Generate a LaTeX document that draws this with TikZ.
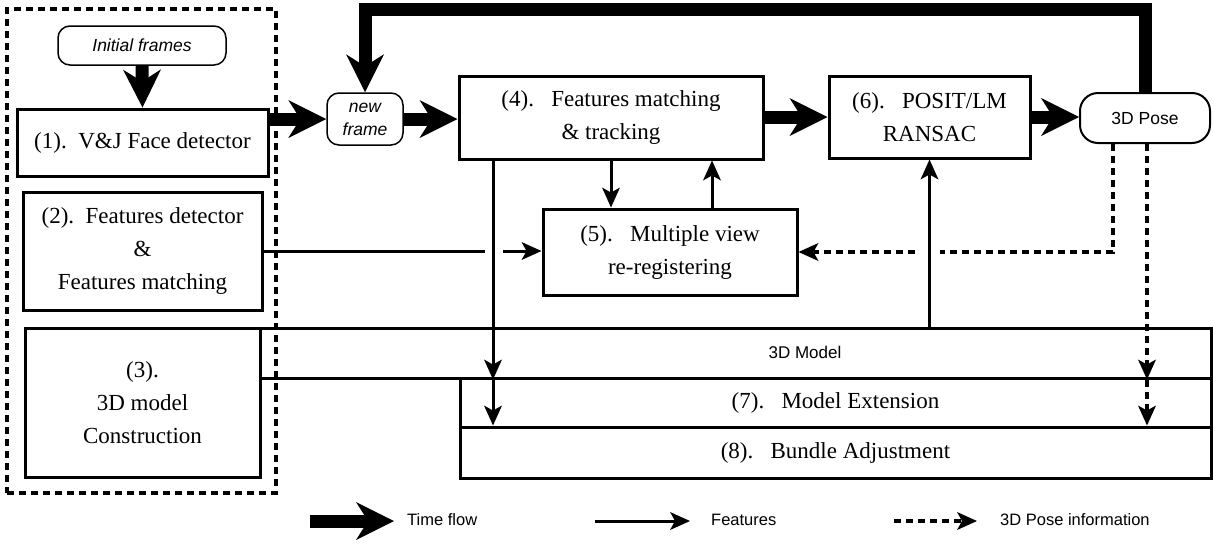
\documentclass[tikz,border=0pt]{standalone}
\usepackage{fontspec}
\setmainfont{Liberation Serif}
\setsansfont{Liberation Sans}
\usetikzlibrary{arrows.meta,calc}
\tikzset{
  box/.style={draw, line width=3pt, rectangle, inner sep=0pt, align=center,
    font=\fontsize{23}{33}\selectfont},
  pill/.style={draw, line width=1.5pt, rounded corners=12pt, inner sep=0pt, align=center,
    font=\sffamily\itshape\fontsize{17.5}{23}\selectfont},
  stagebox/.style={draw, line width=3.5pt, dash pattern=on 7pt off 5pt, inner sep=0pt},
  sanslabel/.style={font=\sffamily\fontsize{17}{20}\selectfont, inner sep=0pt},
  legendlabel/.style={font=\sffamily\fontsize{16.5}{20}\selectfont, inner sep=0pt, anchor=west},
  timeflow/.style={line width=13pt,
    -{Stealth[length=38pt,width=38pt,inset=12pt,line width=0pt]}},
  featline/.style={line width=3pt},
  feat/.style={featline, -{Stealth[length=20pt,width=18pt,inset=5pt,line width=0pt]}},
  poseline/.style={line width=3.5pt, dash pattern=on 7pt off 5pt},
  posinfo/.style={poseline, -{Stealth[length=20pt,width=18pt,inset=5pt,line width=0pt]}},
}
\begin{document}
\begin{tikzpicture}[x=1pt,y=-1pt]
\useasboundingbox (0,0) rectangle (1213,547);

% initialisation stage (dashed frame)
\node[stagebox, minimum width=269pt, minimum height=484pt] (init) at (141.5,251) {};
\node[pill, minimum width=168pt, minimum height=39pt] (ini) at (142,45.5) {Initial frames};
\node[box, minimum width=251pt, minimum height=67pt] (b1) at (142.5,142.5) {\raisebox{4pt}{(1).\ \ V\&J Face detector}};
\node[box, minimum width=239pt, minimum height=118pt] (b2) at (142.5,251) {(2).\ \ Features detector\\\&\\Features matching};

% model bars
\node[box, minimum width=951pt, minimum height=50pt] (m3d) at (735.5,353) {};
\node[sanslabel] (m3dlabel) at (805,352) {3D Model};
\node[box, minimum width=751pt, minimum height=49pt] (b7) at (835.5,402.5) {(7).\ \ \ Model Extension};
\node[box, minimum width=751pt, minimum height=51pt] (b8) at (835.5,452.5) {(8).\ \ \ Bundle Adjustment};
\node[box, minimum width=235pt, minimum height=149pt, fill=white] (b3) at (142.5,402.5) {(3).\\3D model\\Construction};

% tracking loop
\node[pill, minimum width=76pt, minimum height=52pt] (nf) at (365,119) {new\\frame};
\node[box, minimum width=304pt, minimum height=83pt] (b4) at (611,117.5) {(4).\ \ \ Features matching\\\& tracking};
\node[box, minimum width=254pt, minimum height=86pt] (b5) at (670,252) {(5).\ \ \ Multiple view\\re-registering};
\node[box, minimum width=201pt, minimum height=82pt] (b6) at (929.5,117) {(6).\ \ \ POSIT/LM\\RANSAC};
\node[pill, font=\sffamily\fontsize{17.5}{20}\selectfont, line width=2pt, rounded corners=18pt,
      minimum width=130pt, minimum height=50pt] (pose) at (1145,118) {3D Pose};

% helper coordinates for vertical connectors and line jumps
\coordinate (top) at (0,9);
\coordinate (d1) at (493,0);
\coordinate (d2) at (611,0);
\coordinate (d3) at (712,0);
\coordinate (p1) at (1113,0);
\coordinate (p2) at (1147,0);
\coordinate (j1a) at (485,0);
\coordinate (j1b) at (503,0);
\coordinate (j2a) at (915,252);
\coordinate (j2b) at (940,252);

% time flow
\draw[timeflow] (ini.south) -- (b1.north);
\draw[timeflow] (b1.east |- nf.west) -- (nf.west);
\draw[timeflow] (nf.east) -- (nf.east -| b4.west);
\draw[timeflow] (b4.east |- b6.west) -- (b6.west);
\draw[timeflow] (b6.east) -- (b6.east -| pose.west);
\draw[timeflow] (pose.north) -- (pose.north |- top) -| (nf.north);

% features
\draw[featline] (b2.east) -- (b2.east -| j1a);
\draw[feat] (b2.east -| j1b) -- (b2.east -| b5.west);
\draw[feat] (b4.south -| d1) -- (m3d.south -| d1);
\draw[feat] (m3d.south -| d1) -- (b8.north -| d1);
\draw[feat] (b4.south -| d2) -- (b5.north -| d2);
\draw[feat] (b5.north -| d3) -- (b4.south -| d3);
\draw[feat] (m3d.north -| b6.south) -- (b6.south);

% 3D pose information
\draw[poseline] (pose.south -| p1) |- (j2b);
\draw[posinfo] (j2a) -- (b5.east);
\draw[posinfo] (pose.south -| p2) -- (m3d.south -| p2);
\draw[posinfo] (m3d.south -| p2) -- (b8.north -| p2);

% legend
\coordinate (l1a) at (310,521); \coordinate (l1b) at (394,521);
\coordinate (l2a) at (595,521); \coordinate (l2b) at (690,521);
\coordinate (l3a) at (894,521); \coordinate (l3b) at (977,521);
\draw[timeflow] (l1a) -- (l1b);
\draw[feat] (l2a) -- (l2b);
\draw[posinfo] (l3a) -- (l3b);
\node[legendlabel] (lt1) at (407,520) {Time flow};
\node[legendlabel] (lt2) at (711,520) {Features};
\node[legendlabel] (lt3) at (1000,520) {3D Pose information};
\end{tikzpicture}
\end{document}
